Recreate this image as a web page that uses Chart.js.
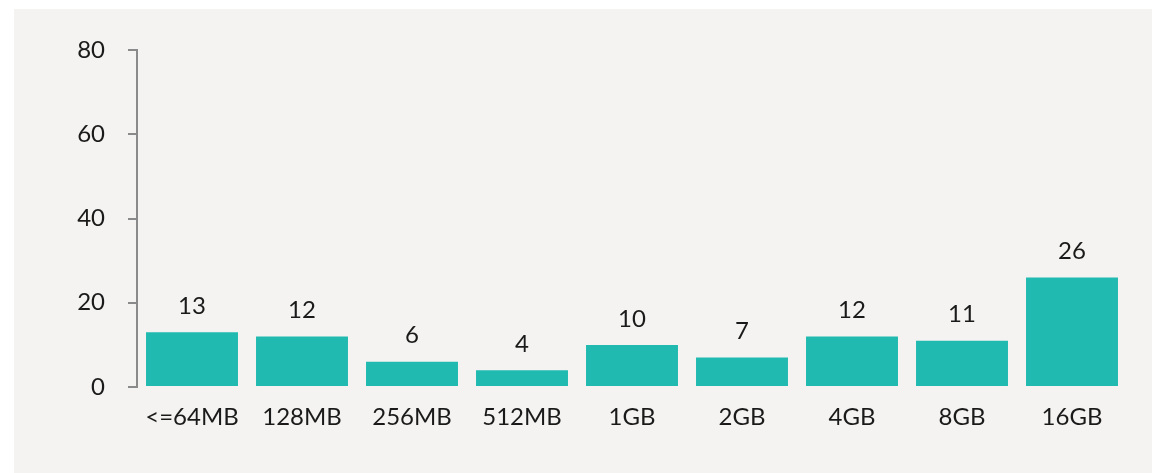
<!DOCTYPE html>
<html>
<head>
<meta charset="utf-8">
<script src="https://cdn.jsdelivr.net/npm/chart.js@4/dist/chart.umd.min.js"></script>
<style>
  html, body { margin: 0; padding: 0; background: #ffffff; }
  #panel {
    position: absolute; left: 14px; top: 9px;
    width: 1138px; height: 464px;
    background: #f4f3f1;
  }
  #memChart { display: block; }
</style>
</head>
<body>
<div id="panel"><canvas id="memChart" width="1138" height="464"></canvas></div>
<script>
// memory size buckets and share per bucket
const categories = ['<=64MB', '128MB', '256MB', '512MB', '1GB', '2GB', '4GB', '8GB', '16GB'];
const values = [13, 12, 6, 4, 10, 7, 12, 11, 26];
const yTicks = [0, 20, 40, 60, 80];

const FONT = "Lato, 'Open Sans', sans-serif";
const TEXT = '#1a1a1a';
const AXIS = '#8a8a8a';

// draws the number above each bar
const barLabels = {
    id: 'barLabels',
    afterDatasetsDraw(chart) {
        const ctx = chart.ctx;
        const meta = chart.getDatasetMeta(0);
        ctx.save();
        ctx.font = `24px ${FONT}`;
        ctx.fillStyle = TEXT;
        ctx.textAlign = 'center';
        ctx.textBaseline = 'bottom';
        meta.data.forEach((bar, i) => {
            ctx.fillText(String(values[i]), bar.x, bar.y - 14);
        });
        ctx.restore();
    }
};

new Chart(document.getElementById('memChart'), {
    type: 'bar',
    data: {
        labels: categories,
        datasets: [{
            data: values,
            backgroundColor: '#21bab0',
            borderWidth: 0,
            categoryPercentage: 1,
            barPercentage: 0.836
        }]
    },
    options: {
        responsive: false,
        animation: false,
        layout: { padding: { top: 41, right: 25, left: 0, bottom: 0 } },
        plugins: {
            legend: { display: false },
            tooltip: { enabled: false }
        },
        scales: {
            x: {
                grid: { display: false, drawTicks: false },
                border: { display: false },
                ticks: { color: TEXT, font: { family: FONT, size: 24 }, padding: 16, maxRotation: 0 },
                afterFit(scale) { scale.height = 86; }
            },
            y: {
                min: 0,
                max: 80,
                afterBuildTicks(scale) { scale.ticks = yTicks.map(v => ({ value: v })); },
                grid: { drawOnChartArea: false, drawTicks: true, tickLength: 9, color: AXIS, lineWidth: 2 },
                border: { display: true, color: AXIS, width: 2 },
                ticks: { color: TEXT, font: { family: FONT, size: 24 }, padding: 23 },
                afterFit(scale) { scale.width = 123; }
            }
        }
    },
    plugins: [barLabels]
});
</script>
</body>
</html>
